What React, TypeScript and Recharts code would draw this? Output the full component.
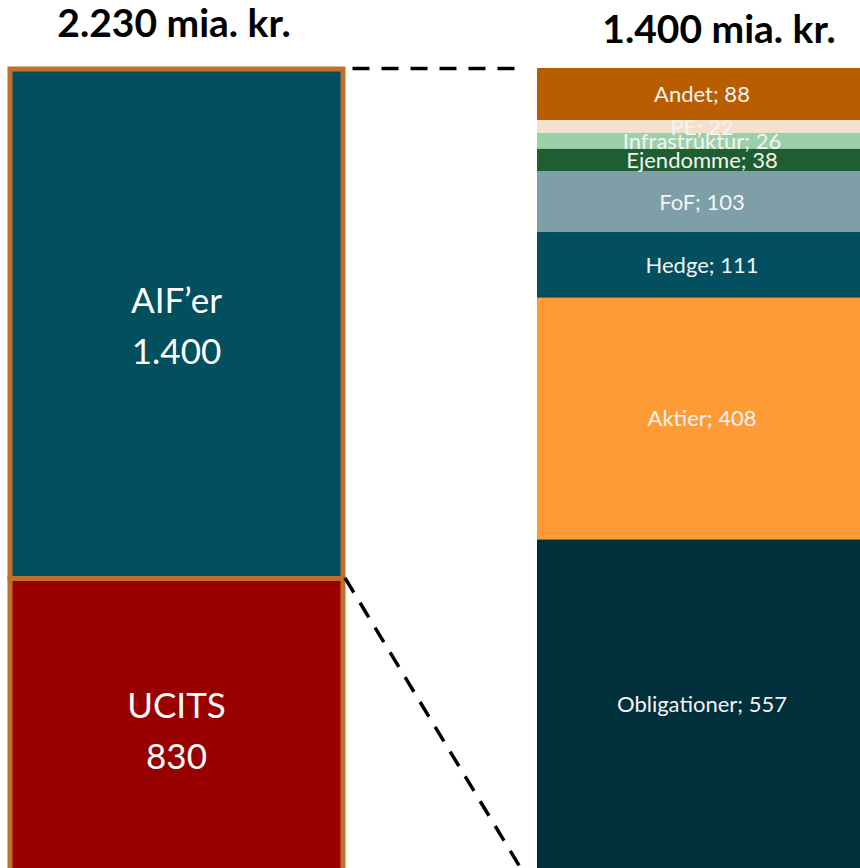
import React from 'react';
import { BarChart, Bar, XAxis, YAxis, LabelList } from 'recharts';

// Fonds i alt: UCITS og AIF'er (mia. kr.)
const leftCategories = ['UCITS', 'AIF’er'];
const leftValues = [830, 1400];
const leftColors = ['#990000', '#024F5E'];

// AIF'er fordelt på type, nedefra og op
const rightCategories = [
  'Obligationer',
  'Aktier',
  'Hedge',
  'FoF',
  'Ejendomme',
  'Infrastruktur',
  'PE',
  'Andet',
];
const rightValues = [557, 408, 111, 103, 38, 26, 22, 88];
const rightColors = [
  '#012F3B',
  '#FF9B37',
  '#02505F',
  '#7F9FA8',
  '#1E5E30',
  '#9BD1AA',
  '#F2E2CD',
  '#B85D00',
];

const BORDER = '#C0702A';
const FONT = 'Lato, "Open Sans", sans-serif';

const fmt = (v: number) => String(v).replace(/\B(?=(\d{3})+(?!\d))/g, '.');
const leftTotal = leftValues.reduce((a, b) => a + b, 0);

// plot boxes (page px)
const L = { x: 9.5, y: 68.5, w: 333, h: 811.5, pad: 3 };
const R = { x: 537, y: 68, w: 330, h: 801 };

const leftRow: Record<string, number | string> = { name: 'Fonde' };
leftCategories.forEach((c, i) => (leftRow[c] = leftValues[i]));
const rightRow: Record<string, number | string> = { name: 'AIF' };
rightCategories.forEach((c, i) => (rightRow[c] = rightValues[i]));

function BigLabel(props: any) {
  const x = Number(props.x);
  const y = Number(props.y);
  const w = Number(props.width);
  const h = Number(props.height);
  const cx = x + w / 2;
  const cy = y + h / 2;
  return (
    <g>
      <text x={cx} y={cy - 11} textAnchor="middle" fill="#fff" fontSize={35} fontFamily={FONT}>
        {props.title}
      </text>
      <text x={cx} y={cy + 40} textAnchor="middle" fill="#fff" fontSize={35} fontFamily={FONT}>
        {fmt(Number(props.value))}
      </text>
    </g>
  );
}

function SmallLabel(props: any) {
  const x = Number(props.x);
  const y = Number(props.y);
  const w = Number(props.width);
  const h = Number(props.height);
  return (
    <text
      x={x + w / 2}
      y={y + h / 2 + 8}
      textAnchor="middle"
      fill="#F4F4F4"
      fontSize={22}
      fontFamily={FONT}
    >
      {`${props.title}; ${props.value}`}
    </text>
  );
}

export default function App() {
  // boundary between UCITS and AIF'er on the left bar
  const splitY = L.y + L.h * (1 - leftValues[0] / leftTotal);
  const leftRight = L.x + L.w;

  return (
    <div
      style={{
        position: 'fixed',
        left: 0,
        top: 0,
        width: 860,
        height: 868,
        overflow: 'hidden',
        background: '#fff',
      }}
    >
      <div style={{ position: 'absolute', left: L.x - L.pad, top: L.y - L.pad }}>
        <BarChart
          width={L.w + 2 * L.pad}
          height={L.h + L.pad}
          data={[leftRow]}
          margin={{ top: L.pad, right: L.pad, bottom: 0, left: L.pad }}
          barCategoryGap={0}
        >
          <XAxis dataKey="name" type="category" hide />
          <YAxis type="number" domain={[0, 'dataMax']} hide />
          {leftCategories.map((c, i) => (
            <Bar
              key={c}
              dataKey={c}
              stackId="l"
              fill={leftColors[i]}
              stroke={BORDER}
              strokeWidth={5}
              isAnimationActive={false}
            >
              <LabelList dataKey={c} content={(p: any) => <BigLabel {...p} title={c} />} />
            </Bar>
          ))}
        </BarChart>
      </div>

      <div style={{ position: 'absolute', left: R.x, top: R.y }}>
        <BarChart
          width={R.w}
          height={R.h}
          data={[rightRow]}
          margin={{ top: 0, right: 0, bottom: 0, left: 0 }}
          barCategoryGap={0}
        >
          <XAxis dataKey="name" type="category" hide />
          <YAxis type="number" domain={[0, 'dataMax']} hide />
          {rightCategories.map((c, i) => (
            <Bar
              key={c}
              dataKey={c}
              stackId="r"
              fill={rightColors[i]}
              isAnimationActive={false}
            >
              <LabelList dataKey={c} content={(p: any) => <SmallLabel {...p} title={c} />} />
            </Bar>
          ))}
        </BarChart>
      </div>

      <svg
        width={860}
        height={868}
        style={{ position: 'absolute', left: 0, top: 0, pointerEvents: 'none' }}
      >
        <text x={174} y={37} textAnchor="middle" fontSize={39} fontWeight={700} fontFamily={FONT} fill="#000">
          {`${fmt(leftTotal)} mia. kr.`}
        </text>
        <text x={719} y={43} textAnchor="middle" fontSize={39} fontWeight={700} fontFamily={FONT} fill="#000">
          {`${fmt(leftValues[1])} mia. kr.`}
        </text>
        <line
          x1={leftRight + 10}
          y1={L.y}
          x2={R.x - 17}
          y2={L.y}
          stroke="#000"
          strokeWidth={3.5}
          strokeDasharray="17 12"
        />
        <line
          x1={leftRight + 2.5}
          y1={splitY}
          x2={R.x + 3}
          y2={R.y + R.h + 31}
          stroke="#000"
          strokeWidth={3.5}
          strokeDasharray="17 12"
        />
      </svg>
    </div>
  );
}
